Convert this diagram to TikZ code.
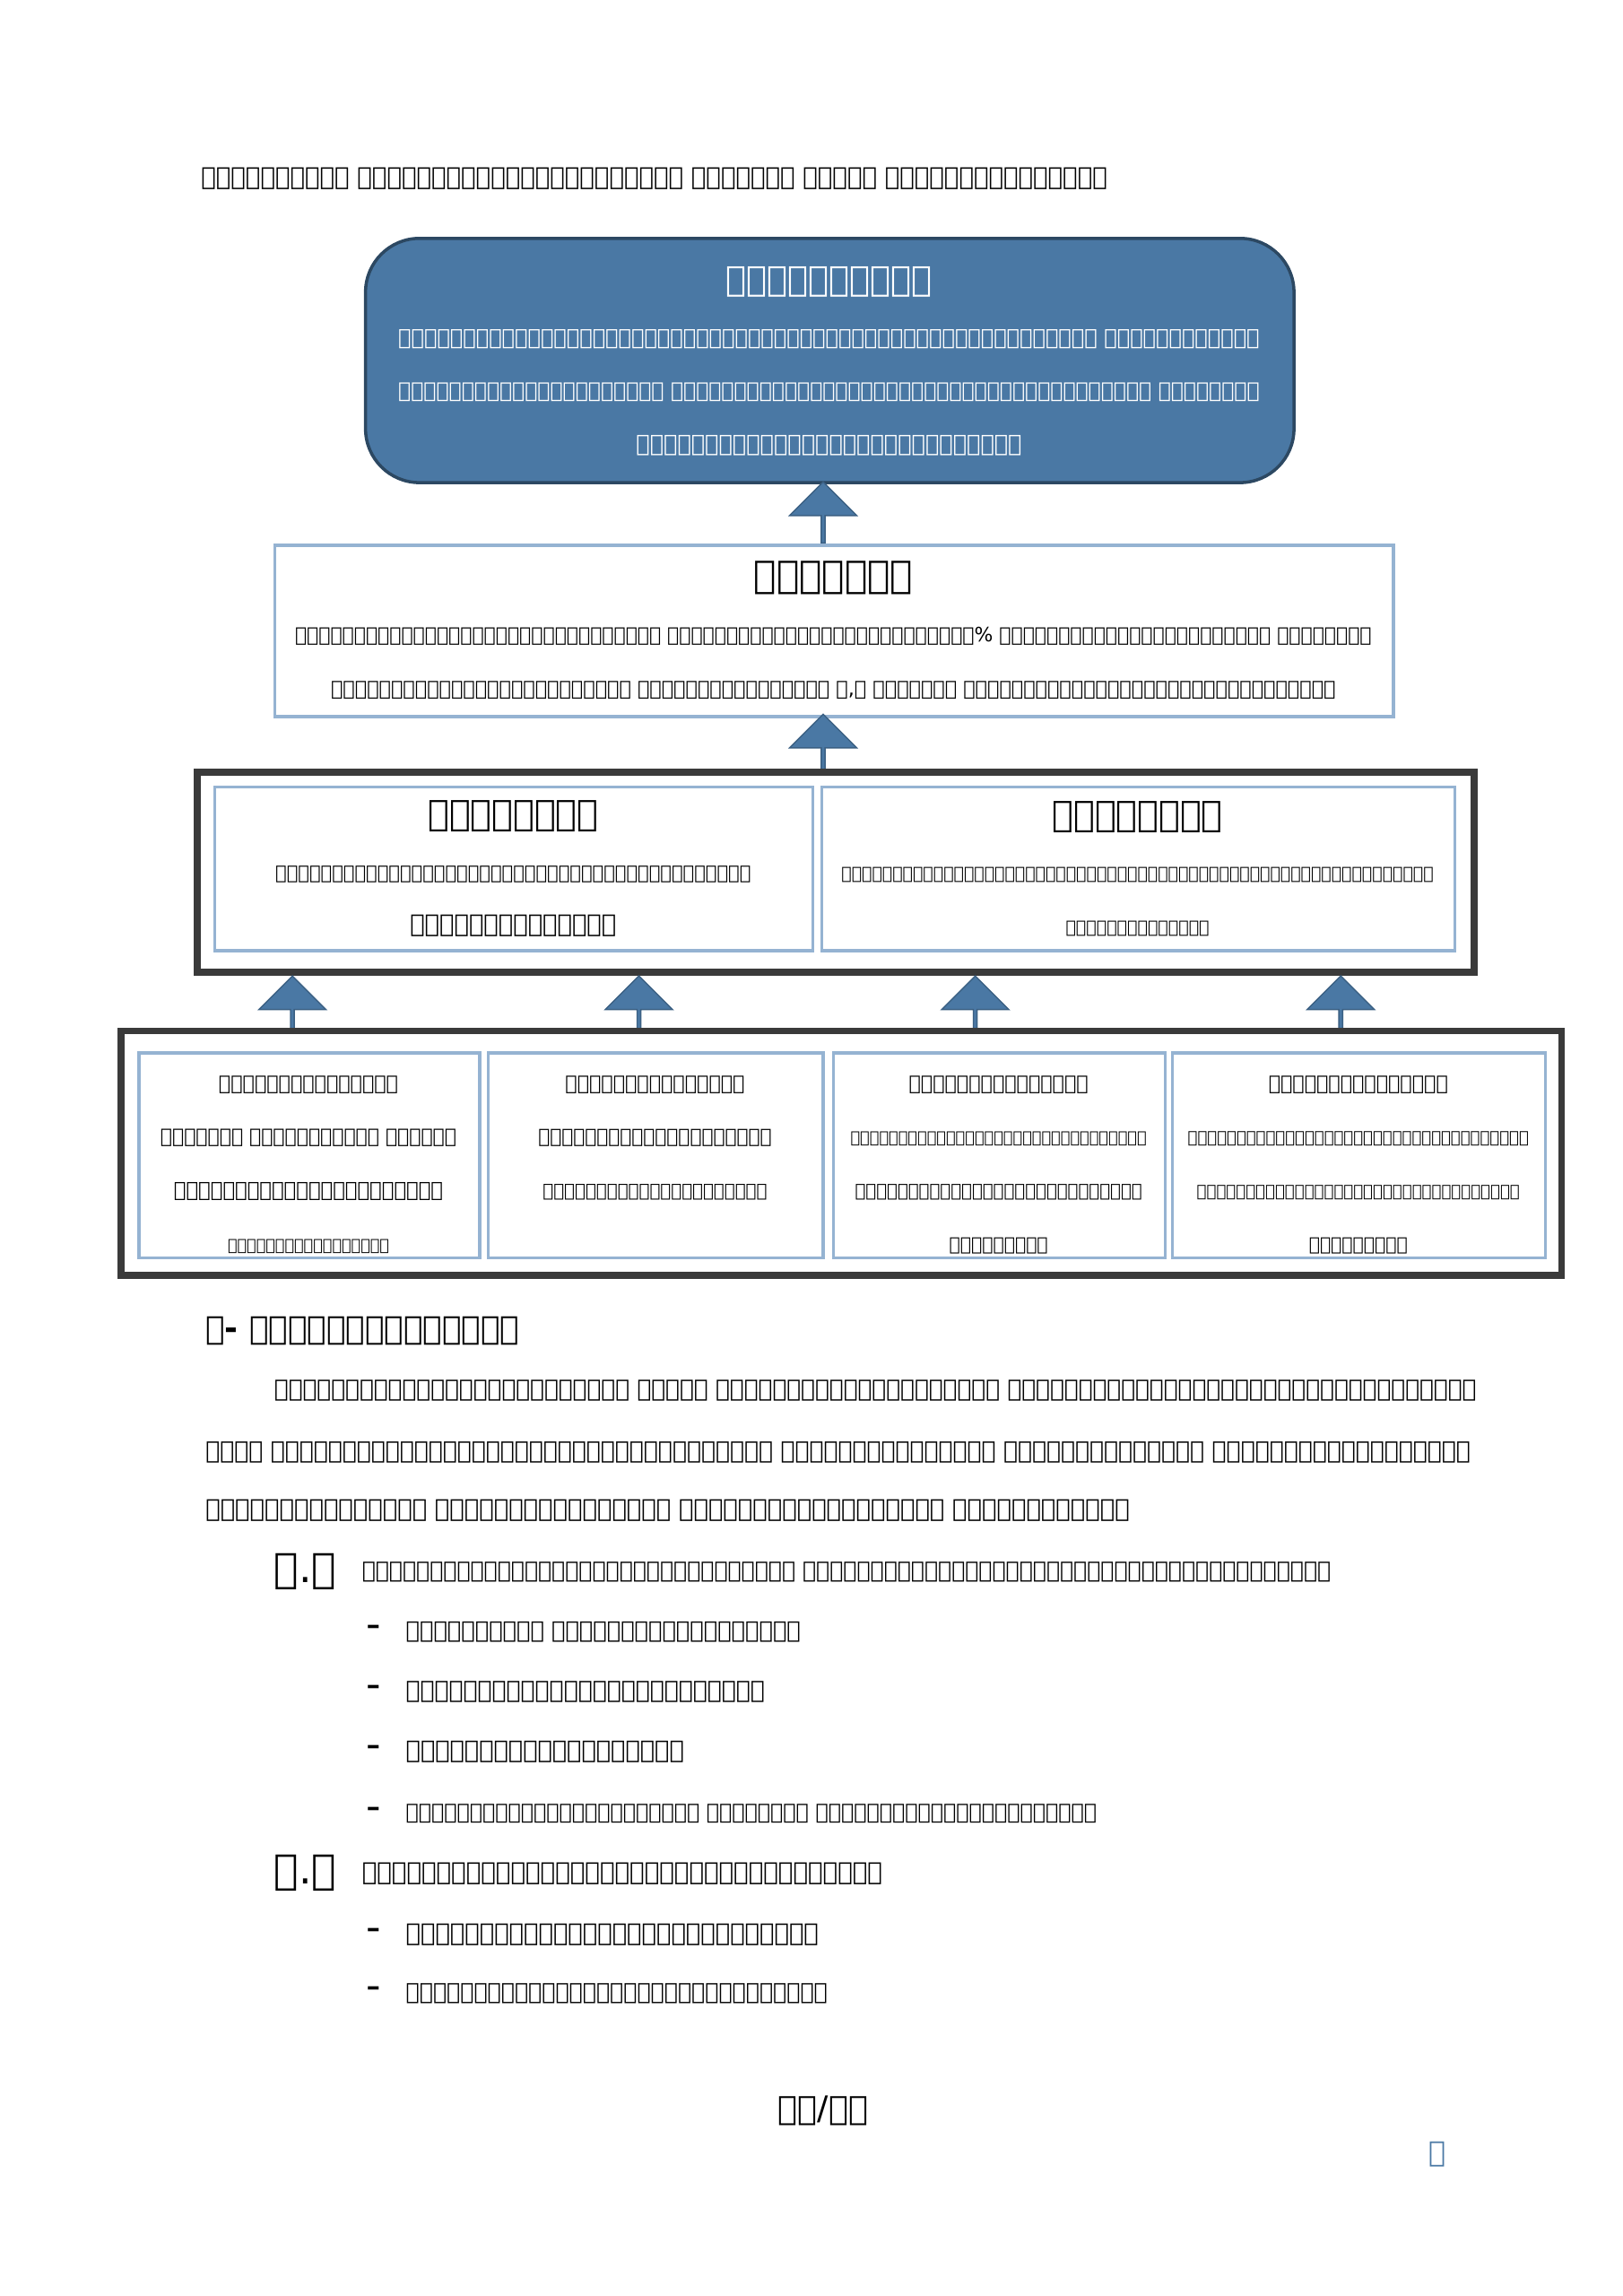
\documentclass[tikz,border=0pt]{standalone}
\usepackage{fontspec}
\usepackage{adjustbox}
\setmainfont{DejaVu Sans}
\usetikzlibrary{shapes.arrows}
\definecolor{vis}{HTML}{4A78A4}
\definecolor{lb}{HTML}{95B3D2}
\definecolor{dk}{HTML}{3A3A3A}
\newcommand{\ml}[2]{\adjustbox{max width=#1}{#2}}
\begin{document}
\begin{tikzpicture}[x=0.0163cm,y=-0.0163cm,
 tx/.style={align=center,font=\fontsize{11}{17}\selectfont},
 up/.style={single arrow,draw=vis!80!black,fill=vis,minimum width=0.75cm,single arrow head extend=0.12cm,single arrow tip angle=90,shape border rotate=90,inner sep=0pt},
 inb/.style={draw=lb,line width=1pt},
 outb/.style={draw=dk,line width=2.2pt},
 bt/.style={anchor=west,font=\fontsize{13}{18}\selectfont}]
\useasboundingbox (0,0) rectangle (1110,1570);
\node[anchor=west,font=\itshape\fontsize{14}{18}\selectfont] (title) at (130,122) {\ml{10.1cm}{រូបភាពទី៤៖ គំនូសបំព្រួញចក្ខុវិស័យ គោលបំណង គោលដៅ និងយុទ្ធសាស្ត្រ}};
% vision
\draw[draw=vis!60!black,fill=vis,rounded corners=0.6cm,line width=1pt] (250,163) rectangle (885,330);
\node[tx,text=white] (vision) at (567,247) {{\bfseries\fontsize{12}{16}\selectfont \ml{2.3cm}{ចក្ខុវិស័យ}}\\\ml{9.6cm}{កសាងបណ្តាញផ្លូវជនបទឱ្យមានភាពប្រទាក់ក្រឡាប្រកបដោយភាពធន់ និងបរិយាបន្ន}\\\ml{9.6cm}{ដើម្បីលើកកម្ពស់គុណភាព និងគុណតម្លៃនៃជីវិតរស់នៅនៃប្រជាជននៅជនបទ និងជំរុញ}\\\ml{4.3cm}{ការអភិវឌ្ឍជនបទប្រកបដោយចីរភាព}};
\node[up,minimum height=0.68cm] (a0) at (563,351) {};
% goal
\draw[inb] (188,373) rectangle (953,490);
\node[tx] (goal) at (570,431) {{\bfseries\fontsize{12}{16}\selectfont \ml{2cm}{គោលបំណង}}\\\ml{12cm}{បង្កើនការតភ្ជាប់បណ្តាញផ្លូវជនបទ ព្រមទាំងឃុំនិងភូមិប្រមាណ៨០\% នៅព្រះរាជាណាចក្រកម្ពុជា មានផ្លូវ}\\\ml{11.2cm}{ប្រើប្រាស់បានគ្រប់រដូវកាល និងប្រជាជនប្រមាណ ៧,៣ លាននាក់ ទទួលផលពីការប្រើប្រាស់ផ្លូវជនបទ។}};
\node[up,minimum height=0.65cm] (a1) at (563,509) {};
% targets
\draw[outb] (135,528) rectangle (1008,665);
\draw[inb] (147,538) rectangle (556,650);
\draw[inb] (562,538) rectangle (995,650);
\node[tx] (t1) at (351,594) {{\bfseries\fontsize{12}{16}\selectfont \ml{1.9cm}{គោលដៅទី១}}\\\ml{5.3cm}{តំបន់ជនបទមានហេដ្ឋារចនាសម្ព័ន្ធប្រទាក់ក្រឡា}\\\ml{2.3cm}{ប្រកបដោយភាពធន់}};
\node[tx] (t2) at (778,594) {{\bfseries\fontsize{12}{16}\selectfont \ml{1.9cm}{គោលដៅទី២}}\\\ml{6.6cm}{ហេដ្ឋារចនាសម្ព័ន្ធផ្លូវជនបទត្រូវបានគ្រប់គ្រងដោយប្រសិទ្ធភាព}\\\ml{1.6cm}{និងនវានុវត្តន៍}};
\foreach \x/\n in {200/b1,437/b2,667/b3,917/b4}{\node[up,minimum height=0.62cm] (\n) at (\x,687) {};}
% strategies
\draw[outb] (83,705) rectangle (1068,872);
\draw[inb] (95,720) rectangle (328,860);
\draw[inb] (334,720) rectangle (563,860);
\draw[inb] (570,720) rectangle (797,860);
\draw[inb] (802,720) rectangle (1057,860);
\node[tx,anchor=north] (s1) at (211,728) {{\bfseries\fontsize{12}{16}\selectfont \ml{2cm}{យុទ្ធសាស្ត្រទី១}}\\\ml{3.3cm}{ស្ថាបនា ស្តារឡើងវិញ កែលម្អ}\\\ml{3cm}{និងលើកកម្រិតហេដ្ឋារចនា}\\\ml{1.8cm}{សម្ព័ន្ធផ្លូវជនបទ}};
\node[tx,anchor=north] (s2) at (448,728) {{\bfseries\fontsize{12}{16}\selectfont \ml{2cm}{យុទ្ធសាស្ត្រទី២}}\\\ml{2.6cm}{ថែទាំនិងជួសជុលហេដ្ឋា}\\\ml{2.5cm}{រចនាសម្ព័ន្ធផ្លូវជនបទ}};
\node[tx,anchor=north] (s3) at (683,728) {{\bfseries\fontsize{12}{16}\selectfont \ml{2cm}{យុទ្ធសាស្ត្រទី៣}}\\\ml{3.3cm}{គ្រប់គ្រងនិងនវានុវត្តន៍ប្រព័ន្ធ}\\\ml{3.2cm}{គ្រប់គ្រងហេដ្ឋារចនាសម្ព័ន្ធ}\\\ml{1.1cm}{ផ្លូវជនបទ}};
\node[tx,anchor=north] (s4) at (929,728) {{\bfseries\fontsize{12}{16}\selectfont \ml{2cm}{យុទ្ធសាស្ត្រទី៤}}\\\ml{3.8cm}{ជំរុញការប្រើប្រាស់បច្ចេកវិទ្យាថ្មីៗ}\\\ml{3.6cm}{ក្នុងការអភិវឌ្ឍហេដ្ឋារចនាសម្ព័ន្ធ}\\\ml{1.1cm}{ផ្លូវជនបទ}};
% body text
\node[bt,font=\bfseries\fontsize{13}{18}\selectfont] (h6) at (133,910) {\ml{3.5cm}{៦- សកម្មភាពការងារ}};
\node[bt] (p1) at (180,951) {\ml{13.4cm}{ដើម្បីឆ្លើយតបទៅនឹងគោលបំណង គោលដៅ និងយុទ្ធសាស្ត្រខាងលើ ការអភិវឌ្ឍហេដ្ឋារចនាសម្ព័ន្ធផ្លូវ}};
\node[bt] (p2) at (133,993) {\ml{14.1cm}{ជនបទ ត្រូវអនុវត្តសកម្មភាពសំខាន់ៗមួយចំនួន ដូចជាការស្ថាបនា ការស្តារឡើងវិញ ការកែលម្អលើកកម្រិត}};
\node[bt] (p3) at (133,1033) {\ml{10.3cm}{គុណភាពផ្លូវជនបទ ព្រមទាំងការថែទាំ និងជួសជុលផ្លូវជនបទ ដូចខាងក្រោម៖}};
\node[bt] (n61) at (180,1075) {\ml{0.7cm}{៦.១}};
\node[bt] (l61) at (240,1075) {\ml{10.8cm}{ការងារពង្រីកវិសាលភាពនៃការស្ថាបនា និងលើកកម្រិតហេដ្ឋារចនាសម្ព័ន្ធផ្លូវជនបទ}};
\foreach \y/\w/\t in {1116/4.4cm/ការស្ថាបនា និងកែលម្អផ្លូវជនបទ,1157/4cm/ការស្ថាបនាសំណង់សិល្បការ្យ,1198/3.1cm/ការរាប់ចំនួនចរាចរណ៍,1240/7.7cm/ការគ្រប់គ្រងការងារសង្គម បរិស្ថាន និងសុវត្ថិភាពផ្លូវជនបទ,1323/4.6cm/ការថែទាំផ្លូវជនបទជាលក្ខណៈខួប,1363/4.7cm/ការថែទាំផ្លូវជនបទជាលក្ខណៈប្រចាំ}{
 \node[bt] at (243,\y) {-}; \node[bt] at (270,\y) {\ml{\w}{\t}};}
\node[bt] (n62) at (180,1281) {\ml{0.7cm}{៦.២}};
\node[bt] (l62) at (240,1281) {\ml{5.8cm}{ការងារជួសជុលនិងរក្សាគុណភាពផ្លូវជនបទ}};
\node[font=\fontsize{11}{14}\selectfont] (pg) at (563,1443) {\ml{1.0cm}{១៥/៤៦}};
\node[text=vis,font=\fontsize{9}{12}\selectfont] (mk) at (983,1473) {ឥ};
\end{tikzpicture}
\end{document}
